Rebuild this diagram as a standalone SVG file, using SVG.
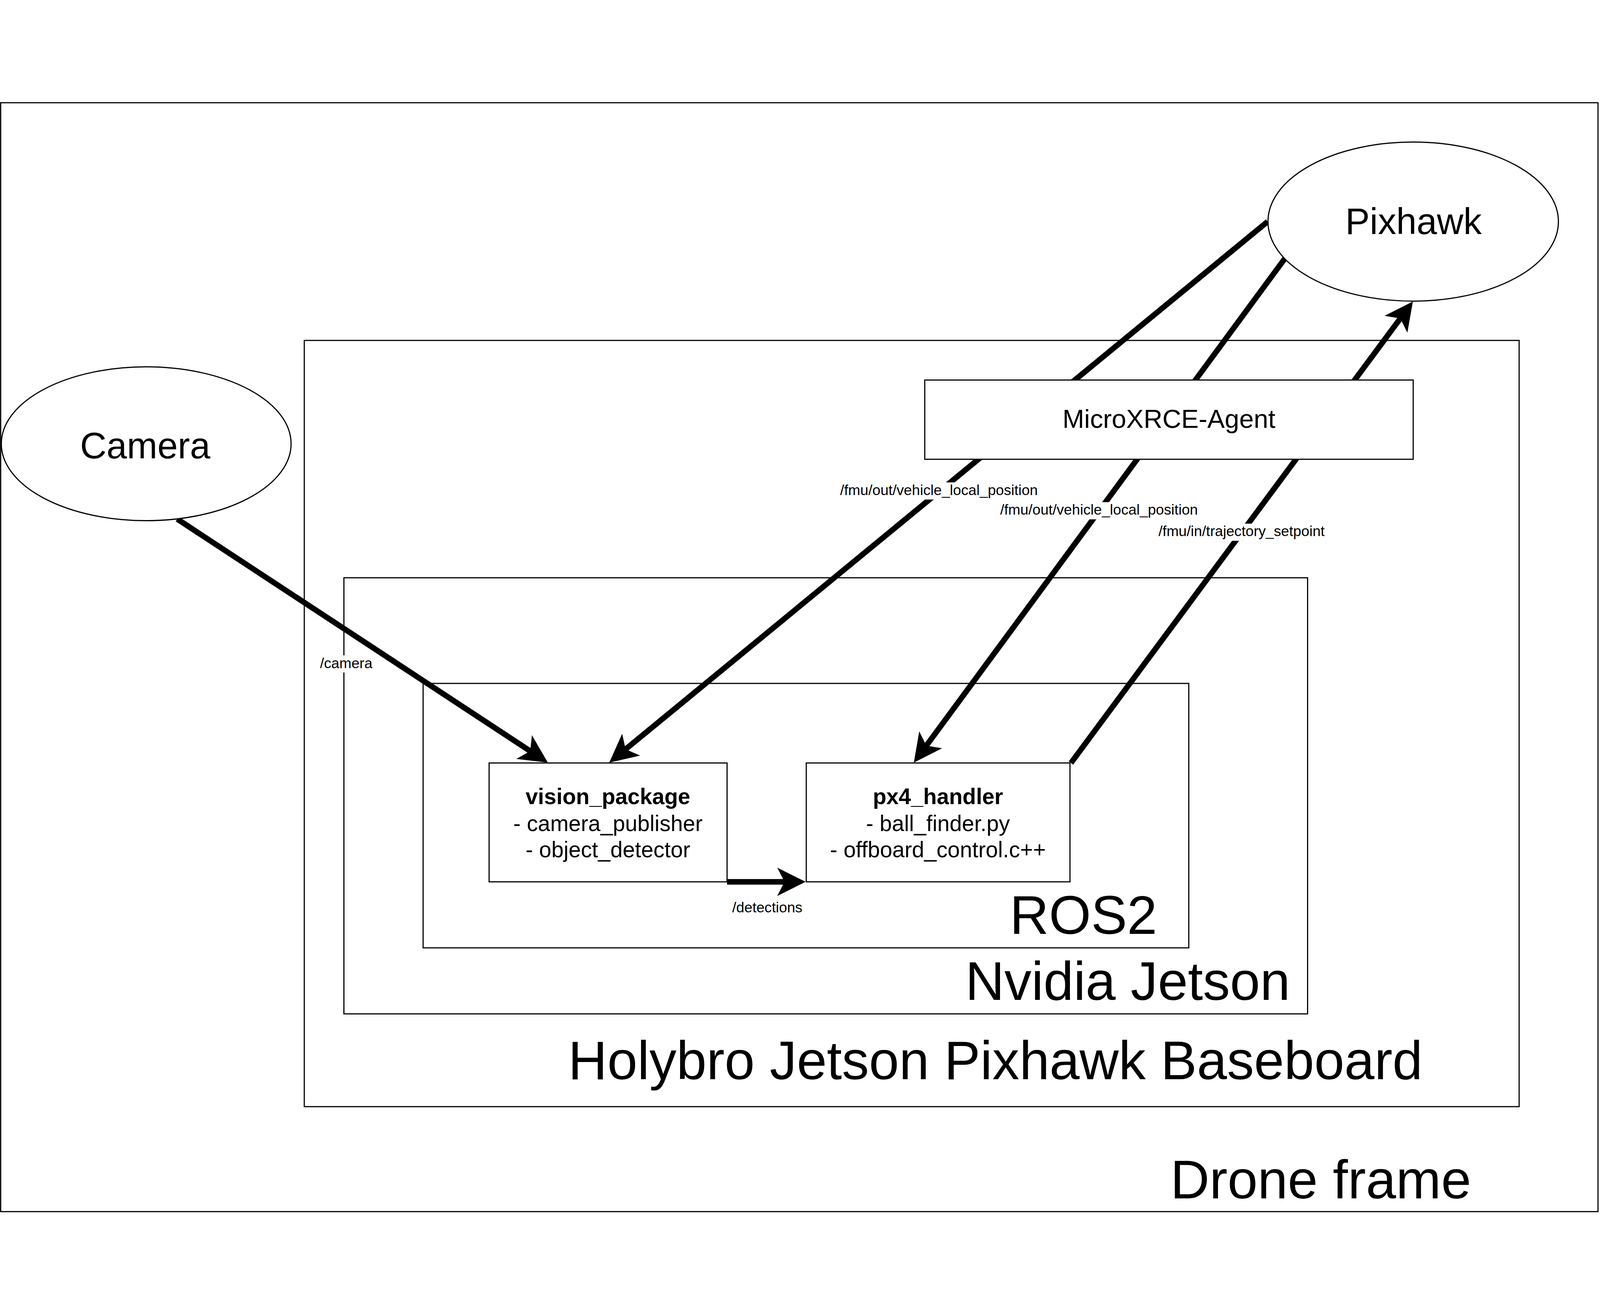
<svg xmlns="http://www.w3.org/2000/svg" width="4848" height="3368" viewBox="0 0 4848 3368" preserveAspectRatio="xMidYMid meet">
  <style>
    svg { width: 100vw; height: 100vh; display: block; }
    text { font-family: "Liberation Sans", Arial, Helvetica, sans-serif; fill: #000; }
    .box { fill: none; stroke: #000; stroke-width: 3.5; }
    .node { fill: #fff; stroke: #000; stroke-width: 3.5; }
    .big { font-size: 164px; text-anchor: middle; }
    .mid { font-size: 111px; text-anchor: middle; }
    .agent { font-size: 79px; text-anchor: middle; }
    .small { font-size: 67px; text-anchor: middle; }
    .bold { font-weight: bold; }
    .edge { fill: none; stroke: #000; stroke-width: 17; stroke-linecap: butt; marker-end: url(#arr); }
    .lbl { font-size: 44px; text-anchor: middle; }
    .lblbg { fill: #fff; stroke: none; }
  </style>
  <defs>
    <marker id="arr" markerUnits="userSpaceOnUse" viewBox="-30 -50 100 100" refX="0" refY="0" markerWidth="100" markerHeight="100" orient="auto" overflow="visible">
      <path d="M64,0 L-22,-43 L0,0 L-22,43 Z" fill="#000" stroke="none"/>
    </marker>
  </defs>

  <rect width="4848" height="3368" fill="#fff"/>

  <g id="drone-frame">
    <rect class="box" x="2" y="2" width="4840" height="3359"/>
    <text class="big" x="4002" y="3321">Drone frame</text>
  </g>

  <g id="holybro-baseboard">
    <rect class="box" x="922" y="722" width="3681" height="2321"/>
    <text class="big" x="3016" y="2960">Holybro Jetson Pixhawk Baseboard</text>
  </g>

  <g id="nvidia-jetson">
    <rect class="box" x="1042" y="1441" width="2920" height="1321"/>
    <text class="big" x="3417" y="2720">Nvidia Jetson</text>
  </g>

  <g id="ros2">
    <rect class="box" x="1282" y="1761" width="2320" height="801"/>
    <text class="big" x="3283" y="2520">ROS2</text>
  </g>

  <g id="connectors">
    <line class="edge" x1="537" y1="1263" x2="1606.5" y2="1965.9"/>
    <rect class="lblbg" x="965" y="1676" width="168" height="52"/>
    <text class="lbl" x="1049" y="1715">/camera</text>

    <line class="edge" x1="3841" y1="362" x2="1895.5" y2="1960.4"/>
    <rect class="lblbg" x="2541" y="1152" width="608" height="52"/>
    <text class="lbl" x="2845" y="1190">/fmu/out/vehicle_local_position</text>

    <line class="edge" x1="3893" y1="474" x2="2806.9" y2="1949.5"/>
    <rect class="lblbg" x="3026" y="1212" width="608" height="52"/>
    <text class="lbl" x="3330" y="1250">/fmu/out/vehicle_local_position</text>

    <line class="edge" x1="3245" y1="2002" x2="4242.9" y2="655.4"/>
    <rect class="lblbg" x="3506" y="1277" width="513" height="52"/>
    <text class="lbl" x="3762" y="1315">/fmu/in/trajectory_setpoint</text>

    <line class="edge" x1="2203" y1="2362" x2="2377" y2="2362"/>
    <text class="lbl" x="2325" y="2454">/detections</text>
  </g>

  <g id="camera">
    <ellipse class="node" cx="443" cy="1035" rx="439" ry="233"/>
    <text class="mid" x="440" y="1079">Camera</text>
  </g>

  <g id="pixhawk">
    <ellipse class="node" cx="4282" cy="362" rx="440" ry="241"/>
    <text class="mid" x="4283" y="400">Pixhawk</text>
  </g>

  <g id="microxrce-agent">
    <rect class="node" x="2802" y="842" width="1480" height="240"/>
    <text class="agent" x="3542" y="987">MicroXRCE-Agent</text>
  </g>

  <g id="vision-package">
    <rect class="node" x="1482" y="2002" width="721" height="360"/>
    <text class="small bold" x="1842" y="2127">vision_package</text>
    <text class="small" x="1842" y="2208">- camera_publisher</text>
    <text class="small" x="1842" y="2288">- object_detector</text>
  </g>

  <g id="px4-handler">
    <rect class="node" x="2443" y="2002" width="799" height="360"/>
    <text class="small bold" x="2842" y="2127">px4_handler</text>
    <text class="small" x="2842" y="2208">- ball_finder.py</text>
    <text class="small" x="2842" y="2288">- offboard_control.c++</text>
  </g>
</svg>
